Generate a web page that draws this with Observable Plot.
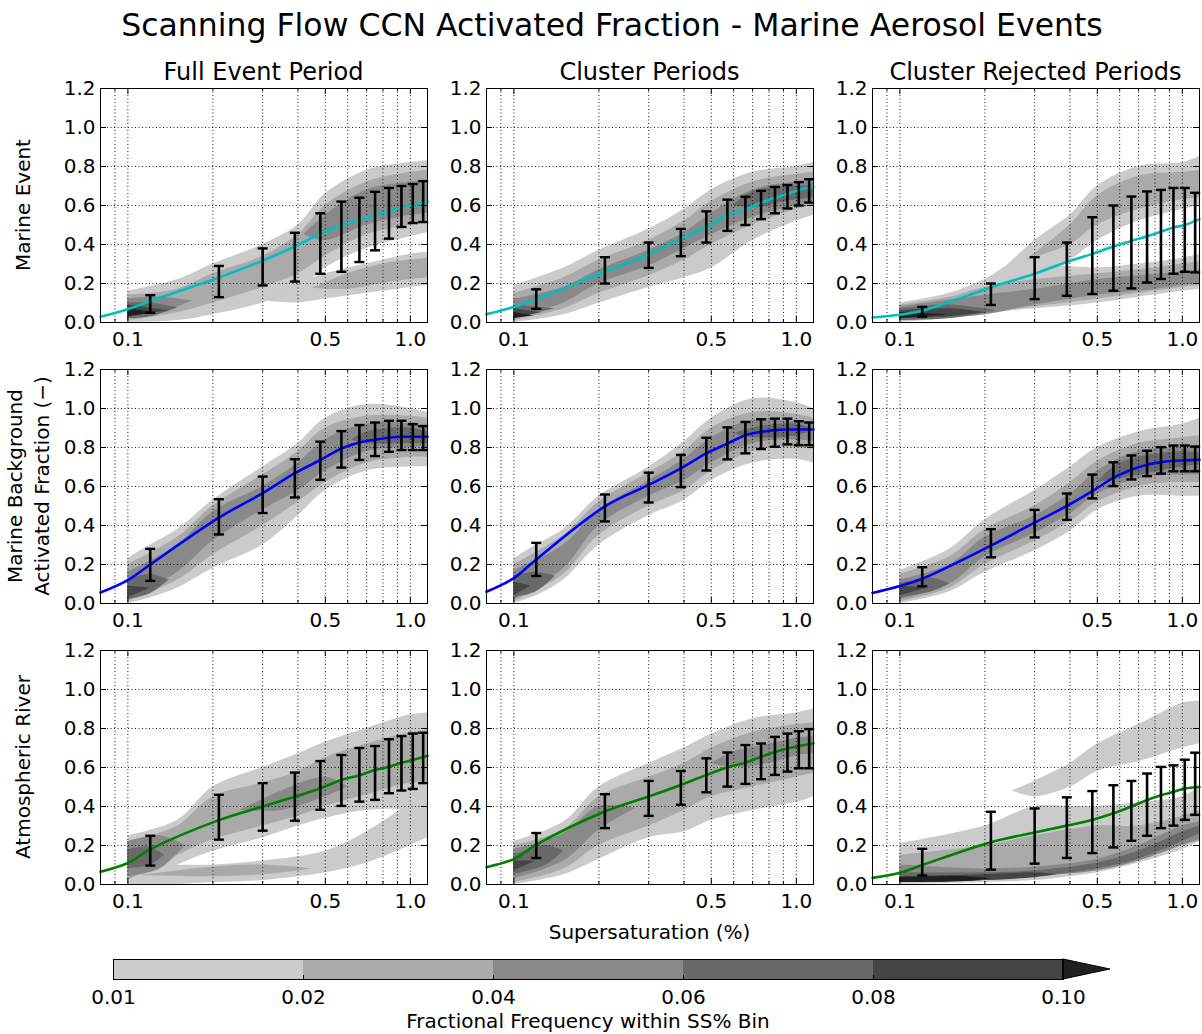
<!DOCTYPE html>
<html><head><meta charset="utf-8">
<script src="https://cdn.jsdelivr.net/npm/d3@7"></script>
<script src="https://cdn.jsdelivr.net/npm/@observablehq/plot@0.6"></script>
<style>
html,body{margin:0;padding:0;background:#fff;overflow:hidden}
#root{position:relative;width:1202px;height:1034px;font-family:"DejaVu Sans",sans-serif;color:#000;background:#fff}
.lbl{position:absolute;white-space:nowrap;line-height:1.164}
.plot{position:absolute}
</style></head><body><div id="root"></div>
<script>
// ---------------- data ----------------
const rowNames = ["Marine Event", "Marine Background\nActivated Fraction (\u2212)", "Atmospheric River"];
const colNames = ["Full Event Period", "Cluster Periods", "Cluster Rejected Periods"];
const lineColors = ["#00bfbf", "#0000ff", "#007f00"];

const levels = [0.01, 0.02, 0.04, 0.06, 0.08, 0.10];
const levelLabels = ["0.01", "0.02", "0.04", "0.06", "0.08", "0.10"];
const grays = ["#cbcbcb", "#aaaaaa", "#898989", "#696969", "#454545", "#1f1f1f"];

const xMajor = [0.1, 0.5, 1.0];
const xMinor = [0.09, 0.2, 0.3, 0.4, 0.6, 0.7, 0.8, 0.9];
const yTicks = [0, 0.2, 0.4, 0.6, 0.8, 1.0, 1.2];

// SS% setpoints of the error bars
const ss = [0.12, 0.21, 0.30, 0.39, 0.48, 0.57, 0.66, 0.75, 0.84, 0.93, 1.02, 1.11];
// x positions of the fitted curve samples
const fitX = [0.08, 0.1, 0.12, 0.21, 0.30, 0.39, 0.48, 0.57, 0.66, 0.75, 0.84, 0.93, 1.02, 1.15];

const fitME_full = [0.03, 0.068, 0.11, 0.231, 0.317, 0.39, 0.455, 0.50, 0.525, 0.55, 0.57, 0.59, 0.603, 0.62];
const fitME_clus = [0.043, 0.08, 0.12, 0.26, 0.35, 0.43, 0.49, 0.55, 0.58, 0.615, 0.64, 0.66, 0.68, 0.695];
const fitME_rej  = [0.026, 0.04, 0.06, 0.18, 0.25, 0.31, 0.352, 0.39, 0.418, 0.442, 0.465, 0.487, 0.50, 0.53];
const fitMB_full = [0.056, 0.12, 0.20, 0.44, 0.566, 0.668, 0.736, 0.795, 0.826, 0.84, 0.85, 0.855, 0.855, 0.855];
const fitMB_clus = [0.06, 0.13, 0.226, 0.498, 0.608, 0.693, 0.77, 0.82, 0.863, 0.88, 0.889, 0.892, 0.892, 0.892];
const fitMB_rej  = [0.054, 0.09, 0.127, 0.297, 0.415, 0.50, 0.576, 0.644, 0.686, 0.712, 0.725, 0.732, 0.734, 0.737];
const fitAR_full = [0.065, 0.11, 0.18, 0.33, 0.40, 0.45, 0.494, 0.536, 0.56, 0.587, 0.604, 0.624, 0.638, 0.66];
const fitAR_clus = [0.089, 0.13, 0.204, 0.374, 0.451, 0.51, 0.562, 0.60, 0.625, 0.655, 0.68, 0.698, 0.71, 0.723];
const fitAR_rej  = [0.034, 0.06, 0.10, 0.217, 0.267, 0.302, 0.331, 0.365, 0.40, 0.433, 0.458, 0.475, 0.492, 0.50];

// error bars [low, high] at each SS setpoint
const errME_full = [[0.05,0.14],[0.13,0.29],[0.19,0.38],[0.21,0.46],[0.25,0.56],[0.26,0.62],[0.31,0.64],[0.37,0.67],[0.43,0.69],[0.49,0.70],[0.51,0.71],[0.515,0.725]];
const errME_clus = [[0.07,0.17],[0.20,0.335],[0.28,0.41],[0.34,0.48],[0.41,0.57],[0.47,0.63],[0.50,0.645],[0.53,0.675],[0.56,0.695],[0.585,0.705],[0.60,0.72],[0.615,0.735]];
const errME_rej  = [[0.03,0.08],[0.09,0.20],[0.12,0.335],[0.137,0.41],[0.146,0.54],[0.163,0.60],[0.175,0.646],[0.205,0.672],[0.223,0.68],[0.25,0.69],[0.26,0.69],[0.257,0.665]];
const errMB_full = [[0.116,0.28],[0.354,0.535],[0.464,0.651],[0.544,0.74],[0.634,0.83],[0.697,0.884],[0.736,0.915],[0.756,0.928],[0.778,0.937],[0.787,0.937],[0.787,0.92],[0.787,0.91]];
const errMB_clus = [[0.141,0.311],[0.421,0.559],[0.518,0.671],[0.597,0.762],[0.682,0.85],[0.739,0.903],[0.77,0.931],[0.792,0.945],[0.804,0.948],[0.816,0.948],[0.812,0.935],[0.812,0.928]];
const errMB_rej  = [[0.088,0.186],[0.237,0.381],[0.339,0.48],[0.429,0.564],[0.539,0.661],[0.602,0.724],[0.636,0.759],[0.653,0.783],[0.666,0.802],[0.678,0.81],[0.678,0.81],[0.678,0.805]];
const errAR_full = [[0.097,0.25],[0.23,0.46],[0.276,0.52],[0.327,0.574],[0.383,0.633],[0.403,0.664],[0.425,0.70],[0.434,0.71],[0.468,0.745],[0.482,0.761],[0.49,0.774],[0.52,0.778]];
const errAR_clus = [[0.136,0.264],[0.289,0.463],[0.352,0.531],[0.409,0.582],[0.473,0.647],[0.502,0.677],[0.516,0.715],[0.54,0.723],[0.562,0.757],[0.579,0.774],[0.596,0.786],[0.596,0.797]];
const errAR_rej  = [[0.046,0.183],[0.076,0.373],[0.107,0.39],[0.136,0.447],[0.161,0.479],[0.19,0.509],[0.224,0.531],[0.25,0.569],[0.289,0.603],[0.302,0.611],[0.331,0.64],[0.357,0.676]];

// density contour bands: [level, [[SS, low, high], ...]]
const densME_full = [
  [0.01, [[0.1,0,0.16],[0.15,0.01,0.22],[0.2,0.04,0.3],[0.3,0.1,0.4],[0.4,0.17,0.5],[0.5,0.28,0.66],[0.7,0.38,0.78],[1.0,0.44,0.82],[1.15,0.46,0.83]]],
  [0.01, [[0.3,0.11,0.11],[0.4,0.1,0.2],[0.5,0.12,0.25],[0.7,0.15,0.3],[1.0,0.18,0.35],[1.15,0.19,0.36]]],
  [0.02, [[0.1,0.01,0.14],[0.15,0.05,0.17],[0.2,0.1,0.25],[0.3,0.18,0.34],[0.4,0.25,0.45],[0.5,0.34,0.6],[0.7,0.45,0.72],[1.0,0.5,0.77],[1.15,0.52,0.78]]],
  [0.02, [[0.45,0.175,0.175],[0.6,0.17,0.25],[0.8,0.2,0.3],[1.0,0.22,0.32],[1.15,0.23,0.33]]],
  [0.04, [[0.1,0.02,0.12],[0.13,0.05,0.13],[0.17,0.11,0.11]]],
  [0.04, [[0.42,0.45,0.45],[0.5,0.42,0.55],[0.7,0.5,0.68],[1.0,0.55,0.72],[1.15,0.56,0.73]]],
  [0.06, [[0.1,0.02,0.1],[0.12,0.03,0.1],[0.15,0.075,0.075]]],
  [0.08, [[0.1,0.03,0.09],[0.14,0.06,0.06]]],
  [0.10, [[0.1,0.03,0.07],[0.125,0.05,0.05]]]
];
const densME_clus = [
  [0.01, [[0.1,0,0.19],[0.15,0.04,0.28],[0.2,0.1,0.37],[0.3,0.18,0.48],[0.4,0.23,0.58],[0.5,0.28,0.68],[0.7,0.42,0.77],[1.0,0.52,0.8],[1.15,0.55,0.82]]],
  [0.02, [[0.1,0.01,0.15],[0.15,0.07,0.23],[0.2,0.15,0.32],[0.3,0.24,0.42],[0.4,0.32,0.52],[0.5,0.4,0.62],[0.7,0.5,0.72],[1.0,0.58,0.76],[1.15,0.6,0.77]]],
  [0.04, [[0.1,0.02,0.12],[0.15,0.1,0.18],[0.2,0.2,0.27],[0.3,0.29,0.37],[0.4,0.38,0.46],[0.5,0.45,0.56],[0.7,0.54,0.68],[1.0,0.6,0.72],[1.15,0.62,0.73]]],
  [0.06, [[0.1,0.02,0.09],[0.14,0.07,0.07]]],
  [0.06, [[0.6,0.6,0.6],[0.7,0.59,0.67],[1.0,0.63,0.7],[1.15,0.64,0.7]]],
  [0.08, [[0.1,0.02,0.07],[0.125,0.05,0.05]]],
  [0.10, [[0.1,0.02,0.05],[0.118,0.035,0.035]]]
];
const densME_rej = [
  [0.01, [[0.1,0,0.1],[0.15,0.02,0.15],[0.2,0.04,0.22],[0.25,0.06,0.3],[0.3,0.07,0.3],[0.5,0.1,0.28],[0.7,0.13,0.3],[1.0,0.16,0.33],[1.15,0.17,0.35]]],
  [0.01, [[0.22,0.24,0.24],[0.3,0.25,0.42],[0.4,0.32,0.55],[0.5,0.42,0.7],[0.7,0.52,0.8],[1.0,0.58,0.82],[1.15,0.6,0.85]]],
  [0.02, [[0.1,0.01,0.09],[0.15,0.02,0.13],[0.2,0.05,0.18],[0.3,0.08,0.22],[0.5,0.12,0.25],[0.7,0.15,0.27],[1.0,0.18,0.3],[1.15,0.19,0.31]]],
  [0.02, [[0.28,0.32,0.32],[0.4,0.4,0.5],[0.5,0.5,0.65],[0.7,0.58,0.75],[1.0,0.63,0.77],[1.15,0.64,0.78]]],
  [0.04, [[0.1,0.01,0.08],[0.2,0.04,0.14],[0.3,0.09,0.17],[0.5,0.14,0.22],[0.7,0.16,0.24],[1.0,0.19,0.26],[1.15,0.2,0.27]]],
  [0.06, [[0.1,0.01,0.07],[0.15,0.02,0.09],[0.22,0.06,0.06]]],
  [0.08, [[0.1,0.02,0.06],[0.15,0.03,0.07],[0.2,0.05,0.05]]],
  [0.10, [[0.1,0.02,0.05],[0.15,0.04,0.04]]]
];
const densMB_full = [
  [0.01, [[0.1,0,0.23],[0.12,0.03,0.3],[0.15,0.08,0.38],[0.2,0.18,0.53],[0.3,0.3,0.7],[0.4,0.45,0.82],[0.5,0.58,0.95],[0.7,0.68,1.02],[1.0,0.7,1.0],[1.15,0.7,0.98]]],
  [0.02, [[0.1,0.01,0.2],[0.15,0.12,0.34],[0.2,0.25,0.5],[0.3,0.4,0.66],[0.4,0.52,0.78],[0.5,0.62,0.9],[0.7,0.72,0.96],[1.0,0.75,0.96],[1.15,0.75,0.95]]],
  [0.04, [[0.1,0.02,0.16],[0.15,0.16,0.3],[0.2,0.32,0.47],[0.3,0.48,0.6],[0.4,0.58,0.72],[0.5,0.68,0.84],[0.7,0.78,0.92],[1.0,0.8,0.92],[1.15,0.8,0.9]]],
  [0.06, [[0.1,0.02,0.12],[0.12,0.05,0.15],[0.14,0.12,0.12]]],
  [0.06, [[0.62,0.84,0.84],[0.7,0.82,0.88],[1.0,0.82,0.9],[1.15,0.82,0.88]]],
  [0.08, [[0.1,0.03,0.09],[0.12,0.08,0.08]]]
];
const densMB_clus = [
  [0.01, [[0.1,0,0.23],[0.12,0.04,0.3],[0.15,0.12,0.38],[0.2,0.3,0.55],[0.3,0.45,0.7],[0.4,0.53,0.83],[0.5,0.63,0.95],[0.7,0.72,1.05],[1.0,0.74,1.03],[1.15,0.72,1.0]]],
  [0.02, [[0.1,0.01,0.2],[0.15,0.15,0.35],[0.2,0.35,0.52],[0.3,0.5,0.67],[0.4,0.58,0.78],[0.5,0.68,0.9],[0.7,0.78,0.98],[1.0,0.8,0.97],[1.15,0.79,0.95]]],
  [0.04, [[0.1,0.02,0.17],[0.15,0.18,0.3],[0.2,0.4,0.48],[0.3,0.55,0.63],[0.4,0.63,0.74],[0.5,0.72,0.85],[0.7,0.82,0.94],[1.0,0.84,0.93],[1.15,0.83,0.92]]],
  [0.06, [[0.1,0.03,0.14],[0.12,0.06,0.16],[0.14,0.14,0.14]]],
  [0.06, [[0.6,0.87,0.87],[0.7,0.85,0.9],[1.0,0.86,0.92],[1.15,0.89,0.89]]],
  [0.08, [[0.1,0.04,0.11],[0.115,0.09,0.09]]]
];
const densMB_rej = [
  [0.01, [[0.1,0,0.17],[0.15,0.06,0.28],[0.2,0.16,0.43],[0.3,0.27,0.58],[0.4,0.37,0.7],[0.5,0.48,0.8],[0.7,0.55,0.88],[1.0,0.55,0.92],[1.15,0.55,0.95]]],
  [0.02, [[0.1,0.01,0.15],[0.15,0.08,0.24],[0.2,0.2,0.38],[0.3,0.32,0.5],[0.4,0.42,0.62],[0.5,0.52,0.73],[0.7,0.6,0.82],[1.0,0.62,0.85],[1.15,0.62,0.86]]],
  [0.04, [[0.1,0.02,0.12],[0.15,0.1,0.2],[0.2,0.24,0.34],[0.3,0.36,0.45],[0.4,0.46,0.56],[0.5,0.56,0.68],[0.7,0.64,0.78],[1.0,0.66,0.8],[1.15,0.66,0.8]]],
  [0.06, [[0.1,0.03,0.1],[0.13,0.06,0.13],[0.15,0.1,0.1]]],
  [0.06, [[0.5,0.62,0.62],[0.6,0.64,0.72],[1.0,0.7,0.78],[1.15,0.71,0.77]]],
  [0.08, [[0.1,0.04,0.09],[0.125,0.08,0.08]]]
];
const densAR_full = [
  [0.01, [[0.1,0,0.25],[0.15,0.1,0.33],[0.2,0.17,0.5],[0.3,0.24,0.6],[0.4,0.3,0.67],[0.5,0.34,0.73],[0.7,0.38,0.8],[1.0,0.38,0.87],[1.15,0.35,0.88]]],
  [0.01, [[0.1,0,0.12],[0.15,0,0.1],[0.2,0.01,0.1],[0.3,0.02,0.12],[0.5,0.06,0.17],[0.7,0.11,0.27],[1.0,0.2,0.42],[1.15,0.24,0.5]]],
  [0.02, [[0.1,0.02,0.22],[0.15,0.15,0.3],[0.2,0.23,0.45],[0.3,0.3,0.52],[0.4,0.35,0.58],[0.5,0.4,0.65],[0.7,0.46,0.72],[1.0,0.52,0.78],[1.15,0.53,0.79]]],
  [0.02, [[0.11,0.045,0.045],[0.2,0.04,0.09],[0.3,0.05,0.1],[0.45,0.08,0.08]]],
  [0.04, [[0.25,0.38,0.38],[0.35,0.38,0.48],[0.5,0.45,0.55],[0.6,0.5,0.5]]],
  [0.04, [[0.1,0.04,0.22],[0.13,0.08,0.25],[0.16,0.2,0.2]]],
  [0.06, [[0.1,0.08,0.18],[0.12,0.1,0.19],[0.135,0.15,0.15]]]
];
const densAR_clus = [
  [0.01, [[0.1,0,0.22],[0.15,0.05,0.32],[0.2,0.13,0.5],[0.3,0.24,0.62],[0.4,0.27,0.7],[0.5,0.33,0.77],[0.7,0.38,0.85],[1.0,0.42,0.88],[1.15,0.45,0.9]]],
  [0.02, [[0.1,0.01,0.2],[0.15,0.08,0.28],[0.2,0.2,0.45],[0.3,0.3,0.55],[0.4,0.38,0.62],[0.5,0.45,0.7],[0.7,0.5,0.78],[1.0,0.55,0.82],[1.15,0.57,0.83]]],
  [0.04, [[0.1,0.03,0.18],[0.15,0.12,0.26],[0.2,0.28,0.4],[0.27,0.39,0.39]]],
  [0.04, [[0.5,0.62,0.62],[0.6,0.6,0.68],[0.8,0.62,0.72],[1.0,0.66,0.75],[1.15,0.67,0.76]]],
  [0.06, [[0.1,0.05,0.15],[0.13,0.1,0.2],[0.15,0.17,0.17]]],
  [0.08, [[0.1,0.07,0.12],[0.12,0.12,0.12]]]
];
const densAR_rej = [
  [0.01, [[0.1,0,0.21],[0.2,0.01,0.3],[0.3,0.02,0.4],[0.4,0.04,0.4],[0.5,0.06,0.4],[0.7,0.11,0.42],[1.0,0.18,0.45],[1.15,0.22,0.5]]],
  [0.01, [[0.25,0.48,0.48],[0.3,0.45,0.53],[0.4,0.5,0.62],[0.5,0.58,0.72],[0.7,0.63,0.82],[1.0,0.7,0.93],[1.15,0.72,0.94]]],
  [0.02, [[0.1,0.01,0.15],[0.2,0.02,0.2],[0.3,0.04,0.25],[0.5,0.07,0.3],[0.7,0.12,0.3],[1.0,0.2,0.35],[1.15,0.22,0.38]]],
  [0.04, [[0.1,0.01,0.1],[0.2,0.02,0.08],[0.3,0.04,0.09],[0.5,0.07,0.13],[0.7,0.12,0.2],[1.0,0.2,0.3],[1.15,0.23,0.32]]],
  [0.06, [[0.1,0.01,0.06],[0.2,0.02,0.06],[0.3,0.04,0.07],[0.5,0.08,0.11],[0.7,0.13,0.17],[1.0,0.22,0.27],[1.15,0.26,0.3]]],
  [0.08, [[0.1,0.01,0.04],[0.2,0.02,0.05],[0.3,0.035,0.06],[0.36,0.05,0.05]]],
  [0.10, [[0.1,0.01,0.035],[0.17,0.015,0.04],[0.21,0.03,0.03]]]
];

const panels = [
  [densME_full, fitME_full, errME_full], [densME_clus, fitME_clus, errME_clus], [densME_rej, fitME_rej, errME_rej],
  [densMB_full, fitMB_full, errMB_full], [densMB_clus, fitMB_clus, errMB_clus], [densMB_rej, fitMB_rej, errMB_rej],
  [densAR_full, fitAR_full, errAR_full], [densAR_clus, fitAR_clus, errAR_clus], [densAR_rej, fitAR_rej, errAR_rej]
];

// ---------------- layout ----------------
const root = document.getElementById("root");
const FW = 327, FH = 234;
const colLeft = [100, 486, 872], rowTop = [88, 369, 650];
const mL = 50, mR = 3, mT = 12, mB = 34;
const colorScale = {type: "threshold", domain: levels.slice(1), range: grays};
const fmt1 = d3.format(".1f");
const cap = {draw(ctx, size) { const w = Math.sqrt(size / Math.PI); ctx.moveTo(-w, 0); ctx.lineTo(w, 0); }};

function label(text, x, baseline, fs) {
  const d = document.createElement("div");
  d.className = "lbl";
  d.textContent = text;
  d.style.fontSize = fs + "px";
  d.style.left = x + "px";
  d.style.top = (baseline - 0.928 * fs) + "px";
  d.style.transform = "translateX(-50%)";
  root.appendChild(d);
  return d;
}
function vlabel(text, cx, cy, fs) {
  const d = document.createElement("div");
  d.className = "lbl";
  d.style.fontSize = fs + "px";
  d.style.lineHeight = "27px";
  d.style.textAlign = "center";
  d.style.whiteSpace = "pre";
  d.textContent = text;
  d.style.left = cx + "px";
  d.style.top = cy + "px";
  d.style.transform = "translate(-50%,-50%) rotate(-90deg)";
  root.appendChild(d);
}

function panel(dens, fit, err, color) {
  const rows = [];
  dens.forEach(([lvl, pts], i) => pts.forEach(([x, lo, hi]) => rows.push({band: i, level: lvl, x, lo, hi})));
  const fitRows = fitX.map((x, i) => ({x, y: fit[i]}));
  const errRows = ss.map((x, i) => ({x, lo: err[i][0], hi: err[i][1]}));
  const gridX = [xMinor[0], ...xMajor, ...xMinor.slice(1)];
  const gridY = yTicks.slice(1, -1);
  return Plot.plot({
    width: FW + mL + mR, height: FH + mT + mB,
    marginLeft: mL, marginRight: mR, marginTop: mT, marginBottom: mB,
    style: {fontFamily: "DejaVu Sans", fontSize: "20px", background: "transparent", color: "#000", overflow: "visible"},
    x: {type: "log", domain: [0.08, 1.15]},
    y: {domain: [0, 1.2]},
    color: colorScale,
    marks: [
      Plot.areaY(rows, {x: "x", y1: "lo", y2: "hi", z: "band", fill: "level", curve: "catmull-rom"}),
      Plot.ruleX(gridX, {x: d => d, stroke: "#000", strokeWidth: 0.9, strokeDasharray: "1,2.5"}),
      Plot.ruleY(gridY, {y: d => d, stroke: "#000", strokeWidth: 0.9, strokeDasharray: "1,2.5"}),
      Plot.tickX(xMajor, {x: d => d, insetTop: FH - 6, stroke: "#000"}),
      Plot.tickX(xMajor, {x: d => d, insetBottom: FH - 6, stroke: "#000"}),
      Plot.tickX(xMinor, {x: d => d, insetTop: FH - 3, stroke: "#000"}),
      Plot.tickX(xMinor, {x: d => d, insetBottom: FH - 3, stroke: "#000"}),
      Plot.tickY(yTicks, {y: d => d, insetRight: FW - 6, stroke: "#000"}),
      Plot.tickY(yTicks, {y: d => d, insetLeft: FW - 6, stroke: "#000"}),
      Plot.line(fitRows, {x: "x", y: "y", stroke: color, strokeWidth: 2.6, curve: "catmull-rom"}),
      Plot.ruleX(errRows, {x: "x", y1: "lo", y2: "hi", stroke: "#000", strokeWidth: 2.6}),
      Plot.dot(errRows, {x: "x", y: "lo", symbol: cap, r: 5, fill: "none", stroke: "#000", strokeWidth: 2.4}),
      Plot.dot(errRows, {x: "x", y: "hi", symbol: cap, r: 5, fill: "none", stroke: "#000", strokeWidth: 2.4}),
      Plot.frame({stroke: "#000", strokeWidth: 1}),
      Plot.axisX({ticks: xMajor, tickFormat: fmt1, tickSize: 0, tickPadding: 9, fontSize: 20, label: null}),
      Plot.axisY({ticks: yTicks, tickFormat: fmt1, tickSize: 0, tickPadding: 5, fontSize: 20, label: null})
    ]
  });
}

panels.forEach(([dens, fit, err], k) => {
  const r = Math.floor(k / 3), c = k % 3;
  const svg = panel(dens, fit, err, lineColors[r]);
  svg.classList.add("plot");
  svg.style.left = (colLeft[c] - mL) + "px";
  svg.style.top = (rowTop[r] - mT) + "px";
  root.appendChild(svg);
});

// titles
label("Scanning Flow CCN Activated Fraction - Marine Aerosol Events", 612, 36, 31.5);
colNames.forEach((t, c) => label(t, colLeft[c] + FW / 2, 81, 24));
vlabel(rowNames[0], 23, rowTop[0] + FH / 2, 20);
vlabel(rowNames[1], 29, rowTop[1] + FH / 2, 20);
vlabel(rowNames[2], 23, rowTop[2] + FH / 2, 20);
label("Supersaturation (%)", colLeft[1] + FW / 2, 940, 20);
label("Fractional Frequency within SS% Bin", 588, 1029, 20);

// colorbar
const segs = levels.slice(0, -1).map((lvl, i) => ({i, lvl}));
const extendFrac = 0.247;
const topLevel = levels[levels.length - 1];
const tri = [{x: segs.length, y1: 0, y2: 1, lvl: topLevel}, {x: segs.length + extendFrac, y1: 0.5, y2: 0.5, lvl: topLevel}];
const cb = Plot.plot({
  width: 1202, height: 94,
  marginLeft: 113, marginRight: 139, marginTop: 19, marginBottom: 55,
  style: {fontFamily: "DejaVu Sans", fontSize: "20px", background: "transparent", color: "#000", overflow: "visible"},
  x: {domain: [0, segs.length]},
  y: {domain: [0, 1], axis: null},
  color: colorScale,
  marks: [
    Plot.rect(segs, {x1: "i", x2: d => d.i + 1, y1: 0, y2: 1, fill: "lvl"}),
    Plot.areaY(tri, {x: "x", y1: "y1", y2: "y2", fill: "lvl", stroke: "#000", strokeWidth: 1}),
    Plot.tickX(d3.range(1, segs.length), {x: d => d, insetTop: 16, stroke: "#000"}),
    Plot.frame({stroke: "#000", strokeWidth: 1}),
    Plot.axisX({ticks: d3.range(0, levels.length), tickFormat: i => levelLabels[i], tickSize: 0, tickPadding: 10, fontSize: 20, label: null})
  ]
});
cb.classList.add("plot");
cb.style.left = "0px";
cb.style.top = "940px";
root.appendChild(cb);
</script>
</body></html>
